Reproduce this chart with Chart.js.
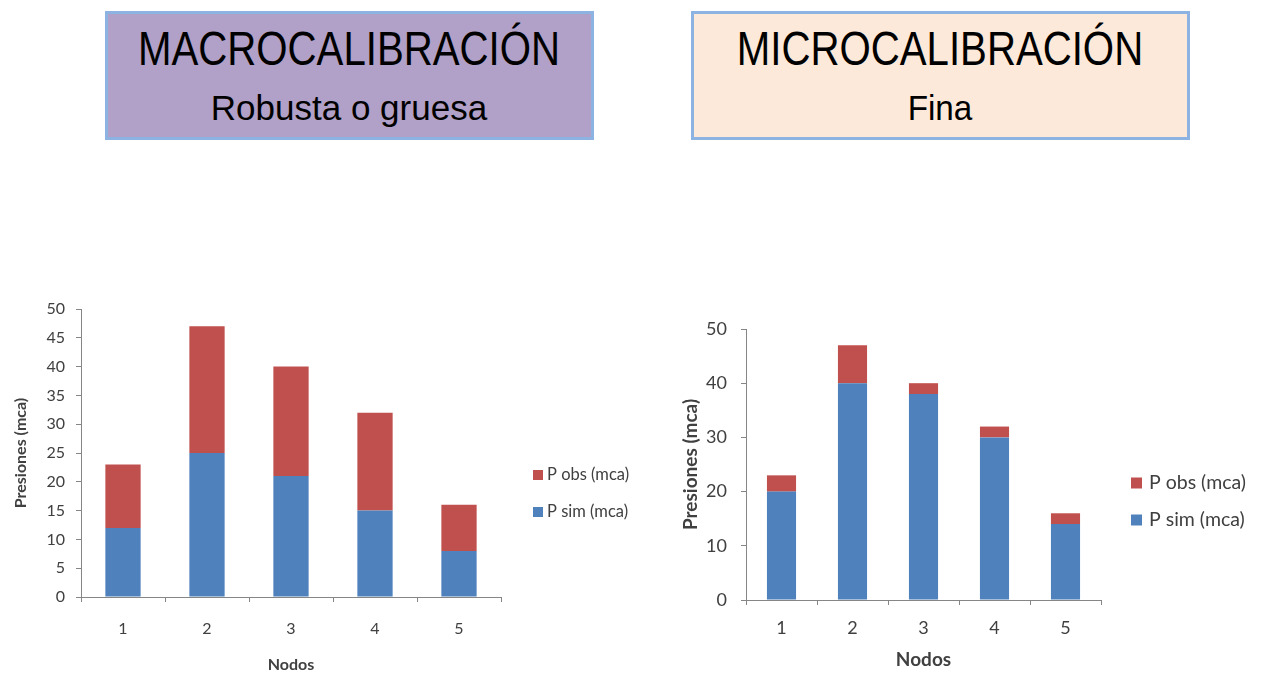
<!DOCTYPE html>
<html lang="es">
<head>
<meta charset="utf-8">
<title>Macrocalibración y microcalibración</title>
<script src="https://cdn.jsdelivr.net/npm/chart.js@4.4.1/dist/chart.umd.min.js"></script>
<style>
  html, body { margin: 0; padding: 0; background: #fff; }
  body { position: relative; width: 1261px; height: 674px; overflow: hidden; font-family: "Liberation Sans", Arial, sans-serif; }
  .box { position: absolute; box-sizing: border-box; border: 3px solid #8db3e2; }
  .line { position: absolute; width: 700px; text-align: center; white-space: nowrap; line-height: 1; color: #000; transform-origin: 50% 50%; }
  canvas { position: absolute; }
</style>
</head>
<body>
  <div class="box" style="left:105px;top:11px;width:489px;height:129px;background:#b1a0c7;"></div>
  <div class="line" style="left:-1px;top:24px;font-size:49px;transform:scaleX(0.82);">MACROCALIBRACIÓN</div>
  <div class="line" style="left:-1px;top:90px;font-size:35px;">Robusta o gruesa</div>

  <div class="box" style="left:691px;top:11px;width:499px;height:129px;background:#fde9d9;"></div>
  <div class="line" style="left:590px;top:24px;font-size:49px;transform:scaleX(0.82);">MICROCALIBRACIÓN</div>
  <div class="line" style="left:590px;top:90px;font-size:35px;transform:scaleX(0.95);">Fina</div>

  <canvas id="macro" width="640" height="384" style="left:0;top:290px;"></canvas>
  <canvas id="micro" width="621" height="364" style="left:640px;top:310px;"></canvas>

<script>
// Nodes on the horizontal axis
const nodos = ['1', '2', '3', '4', '5'];
const seriesSim = 'P sim (mca)';
const seriesObs = 'P obs (mca)';

// Coarse calibration: simulated pressure and the stacked observed segment
const macroSim = [12, 25, 21, 15, 8];
const macroObs = [11, 22, 19, 17, 8];

// Fine calibration
const microSim = [20, 40, 38, 30, 14];
const microObs = [3, 7, 2, 2, 2];

const BLUE = '#4f81bd';
const RED = '#c0504d';
const AXIS = '#868686';
const TEXT = '#404040';
const FONT = 'Lato, "Open Sans", sans-serif';

// Legend drawn at a fixed spot to the right of the plot, top series first
const sideLegend = {
  id: 'sideLegend',
  afterDraw(chart, args, o) {
    const ctx = chart.ctx;
    ctx.save();
    ctx.font = o.size + 'px ' + FONT;
    ctx.textBaseline = 'middle';
    ctx.textAlign = 'left';
    chart.data.datasets.slice().reverse().forEach((ds, i) => {
      const y = o.y + i * o.gap;
      ctx.fillStyle = ds.backgroundColor;
      ctx.fillRect(o.x, y - o.box / 2, o.box, o.box);
      ctx.fillStyle = TEXT;
      ctx.fillText(ds.label, o.textX, y);
    });
    ctx.restore();
  }
};

function makeChart(id, sim, obs, c) {
  return new Chart(document.getElementById(id), {
    type: 'bar',
    data: {
      labels: nodos,
      datasets: [
        { label: seriesSim, data: sim, backgroundColor: BLUE },
        { label: seriesObs, data: obs, backgroundColor: RED }
      ]
    },
    options: {
      responsive: false,
      animation: false,
      devicePixelRatio: 1,
      layout: { padding: { left: 0, top: c.top, right: c.right, bottom: 0 } },
      datasets: { bar: { barPercentage: c.bar, categoryPercentage: 1, borderWidth: 0 } },
      plugins: {
        legend: { display: false },
        tooltip: { enabled: false },
        sideLegend: c.legend
      },
      scales: {
        x: {
          stacked: true,
          grid: { drawOnChartArea: false, drawTicks: true, tickLength: 5, color: AXIS, offset: true },
          border: { color: AXIS, width: 1 },
          ticks: { color: TEXT, font: { family: FONT, size: c.tick }, padding: c.xPad },
          title: { display: true, text: 'Nodos', color: TEXT, font: { family: FONT, size: c.title, weight: 'bold' }, padding: { top: 0, bottom: c.xTitlePad } },
          afterFit(s) { s.height = c.xH; s.paddingLeft = 0; s.paddingRight = 0; }
        },
        y: {
          stacked: true,
          min: 0,
          max: 50,
          ticks: { stepSize: c.step, color: TEXT, font: { family: FONT, size: c.tick }, padding: c.yPad },
          grid: { drawOnChartArea: false, drawTicks: true, tickLength: 5, color: AXIS },
          border: { color: AXIS, width: 1 },
          title: { display: true, text: 'Presiones (mca)', color: TEXT, font: { family: FONT, size: c.title, weight: 'bold' }, padding: { top: c.yTitlePad, bottom: 0 } },
          afterFit(s) { s.width = c.yW; s.paddingTop = 0; s.paddingBottom = 0; }
        }
      }
    },
    plugins: [sideLegend]
  });
}

makeChart('macro', macroSim, macroObs, {
  top: 19, right: 139, bar: 0.42, step: 5,
  tick: 16, title: 16, xPad: 17, yPad: 11, xTitlePad: 0, yTitlePad: 11,
  xH: 77, yW: 81,
  legend: { x: 533, textX: 547, y: 185, gap: 37, box: 10, size: 16.5 }
});

makeChart('micro', microSim, microObs, {
  top: 19, right: 160, bar: 0.41, step: 10,
  tick: 18, title: 19, xPad: 12, yPad: 14, xTitlePad: 3, yTitlePad: 39,
  xH: 74, yW: 106,
  legend: { x: 491, textX: 509, y: 173, gap: 37, box: 11, size: 19.5 }
});
</script>
</body>
</html>
